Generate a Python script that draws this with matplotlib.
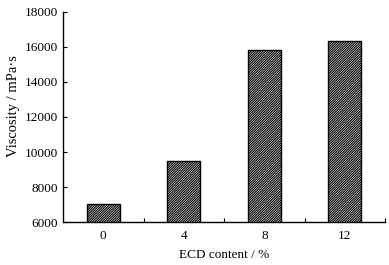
import matplotlib
matplotlib.use("Agg")
import matplotlib.pyplot as plt
import numpy as np

# data
ecd_content = ["0", "4", "8", "12"]
viscosity = [7030, 9490, 15830, 16360]

plt.rcParams["font.family"] = "Liberation Serif"
plt.rcParams["font.size"] = 9.5
plt.rcParams["hatch.linewidth"] = 0.8
plt.rcParams["hatch.color"] = "#333333"

fig = plt.figure(figsize=(3.89, 2.65), dpi=100)
ax = fig.add_axes([0.162, 0.162, 0.828, 0.793])

x = np.arange(len(ecd_content))
ax.bar(x, viscosity, width=0.41, bottom=0, color="white", edgecolor="black",
       linewidth=1.0, hatch="/" * 14)

ax.set_xlim(-0.5, 3.5)
ax.set_ylim(6000, 18000)
ax.set_yticks(range(6000, 18001, 2000))
ax.set_xticks(x)
ax.set_xticklabels(ecd_content)
ax.set_xticks([0.5, 1.5, 2.5, 3.5], minor=True)

ax.tick_params(axis="x", which="major", length=0, pad=6)
ax.tick_params(axis="x", which="minor", direction="in", length=3, width=0.8)
ax.tick_params(axis="y", direction="in", length=3, width=0.8)

ax.spines["top"].set_visible(False)
ax.spines["right"].set_visible(False)
ax.spines["left"].set_linewidth(1.0)
ax.spines["bottom"].set_linewidth(1.0)

ax.set_xlabel("ECD content / %", labelpad=5)
ax.set_ylabel("Viscosity / mPa·s", fontsize=10.5)
ax.yaxis.set_label_coords(-0.135, 0.55)

fig.savefig("out.png", dpi=100)
